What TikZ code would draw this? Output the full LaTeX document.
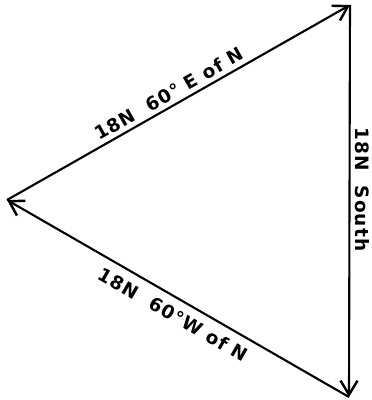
\documentclass[tikz,border=0pt]{standalone}
\usepackage{fontspec}
\setmainfont{DejaVu Sans}
\newfontfamily\letterfont[LetterSpace=6]{DejaVu Sans}
\usetikzlibrary{arrows.meta}
\begin{document}
\begin{tikzpicture}[x=0.02cm,y=-0.02cm,
    vec/.style={line width=1.2pt,-{Straight Barb[length=2.8mm,width=3.4mm,line width=1.4pt]}},
    lbl/.style={font=\letterfont\bfseries\fontsize{10.5}{13}\selectfont,inner sep=2.5pt}]
    \useasboundingbox (0,0) rectangle (372,400);
    % corners of the triangle
    \coordinate (W) at (7,200);
    \coordinate (NE) at (350,5);
    \coordinate (S) at (349,397);
    \draw[vec] (W) -- (NE) node[lbl,pos=0.49,sloped,above] (ne) {18N\ \ 60° E of N}; % first force
    \draw[vec] (NE) -- (S) node[lbl,pos=0.47,sloped,allow upside down,above] (so) {18N\ \ South};
    \draw[vec] (S) -- (W) node[lbl,pos=0.49,sloped,below,yshift=-2pt] (nw) {18N\ \ 60°W of N}; % back to start
\end{tikzpicture}
\end{document}
